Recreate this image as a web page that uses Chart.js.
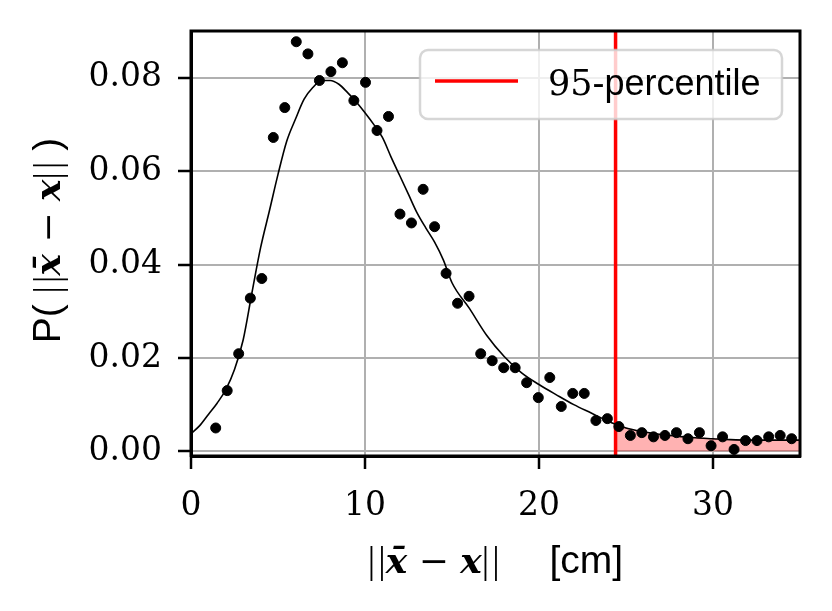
<!DOCTYPE html>
<html lang="en">
<head>
<meta charset="UTF-8">
<title>Distance distribution</title>
<script src="https://cdn.jsdelivr.net/npm/chart.js"></script>
<style>
  body { margin: 0; background: #fff; }
  canvas { display: block; }
</style>
</head>
<body>
<canvas id="distChart" width="832" height="611"></canvas>
<script>
// histogram bins (centre, density)
const binX = [1.42, 2.08, 2.74, 3.41, 4.07, 4.73, 5.39, 6.05, 6.72, 7.38,
              8.04, 8.70, 9.36, 10.03, 10.69, 11.35, 12.01, 12.67, 13.34, 14.00,
              14.66, 15.32, 15.98, 16.65, 17.31, 17.97, 18.63, 19.29, 19.96, 20.62,
              21.28, 21.94, 22.60, 23.27, 23.93, 24.59, 25.25, 25.91, 26.58, 27.24,
              27.90, 28.56, 29.22, 29.89, 30.55, 31.21, 31.87, 32.53, 33.20, 33.86, 34.52];
const binY = [0.0050, 0.0130, 0.0209, 0.0328, 0.0370, 0.0672, 0.0736, 0.0877, 0.0851, 0.0794,
              0.0813, 0.0832, 0.0751, 0.0790, 0.0687, 0.0717, 0.0508, 0.0489, 0.0561, 0.0481,
              0.0381, 0.0317, 0.0332, 0.0209, 0.0194, 0.0179, 0.0179, 0.0147, 0.0115, 0.0158,
              0.0096, 0.0124, 0.0124, 0.0066, 0.0070, 0.0053, 0.0034, 0.0040, 0.0031, 0.0034,
              0.0040, 0.0027, 0.0040, 0.0012, 0.0031, 0.0004, 0.0023, 0.0023, 0.0031, 0.0034, 0.0027];

// fitted density curve
const fitX = [0, 0.5, 1, 1.5, 2, 2.5, 3, 3.5, 4, 4.5, 5, 5.5, 6, 6.5, 7, 7.5, 8, 8.5, 9, 9.5,
              10, 10.5, 11, 11.5, 12, 12.5, 13, 13.5, 14, 14.5, 15, 16, 17, 18, 19, 20, 21, 22, 23, 24,
              24.4, 25, 26, 27, 28, 29, 30, 31, 32, 33, 34, 35];
const fitY = [0.0038, 0.0055, 0.0079, 0.0103, 0.0132, 0.0175, 0.0239, 0.0339, 0.0436, 0.0514,
              0.0593, 0.0664, 0.0711, 0.0754, 0.0779, 0.0794, 0.0794, 0.0786, 0.0768, 0.0748,
              0.0725, 0.0700, 0.0672, 0.0630, 0.0590, 0.0550, 0.0510, 0.0478, 0.0448, 0.0410,
              0.0361, 0.0306, 0.0248, 0.0203, 0.0168, 0.0143, 0.0121, 0.0100, 0.0082, 0.0064,
              0.0058, 0.0050, 0.0042, 0.0036, 0.0032, 0.0029, 0.0027, 0.0025, 0.0024, 0.0024, 0.0024, 0.0024];

const p95 = 24.4;
const legendLabel = ['95', '-percentile'];
const xTicks = [0, 10, 20, 30];
const yTicks = [0, 0.02, 0.04, 0.06, 0.08];
const xRange = [0, 35];
const yRange = [-0.001, 0.09];

const SERIF = '"DejaVu Serif", serif';
const SANS = '"Liberation Sans", sans-serif';

const fitPts = fitX.map((x, i) => ({ x: x, y: fitY[i] }));
const tailPts = fitPts.filter(p => p.x >= p95);
const binPts = binX.map((x, i) => ({ x: x, y: binY[i] }));

// text made of pieces in different fonts
function drawRuns(ctx, runs, cx, baseY) {
    let total = 0;
    runs.forEach(r => { ctx.font = r[1]; total += ctx.measureText(r[0]).width; });
    let x = cx - total / 2;
    ctx.textAlign = 'left';
    ctx.textBaseline = 'alphabetic';
    runs.forEach(r => {
        ctx.font = r[1];
        ctx.fillText(r[0], x, baseY);
        x += ctx.measureText(r[0]).width;
    });
}

const bars = `37px "Liberation Serif", serif`;
const mathN = `36px ${SERIF}`;
const mathB = `italic bold 36px ${SERIF}`;
const sansN = `39px ${SANS}`;
const dbl = [['|', bars], ['\u200a', bars], ['|', bars]];
const normRuns = dbl.concat([['x\u0304', mathB], [' \u2212 ', mathN], ['x', mathB]], dbl);

const decor = {
    id: 'decor',
    afterDraw(chart) {
        const ctx = chart.ctx;
        const a = chart.chartArea;
        ctx.save();
        ctx.fillStyle = '#000';

        // frame
        ctx.strokeStyle = '#000';
        ctx.lineWidth = 3;
        ctx.strokeRect(a.left, a.top, a.right - a.left, a.bottom - a.top);

        // axis titles
        drawRuns(ctx, normRuns.concat([['\u2003 [cm]', sansN]]), (a.left + a.right) / 2, 573);
        ctx.save();
        ctx.translate(60, (a.top + a.bottom) / 2 - 3);
        ctx.rotate(-Math.PI / 2);
        drawRuns(ctx, [['P( ', sansN]].concat(normRuns, [[' )', sansN]]), 0, 0);
        ctx.restore();

        // legend
        const bx = 420, by = 50, bw = 362, bh = 69;
        ctx.beginPath();
        ctx.roundRect(bx, by, bw, bh, 8);
        ctx.fillStyle = 'rgba(255,255,255,0.8)';
        ctx.fill();
        ctx.strokeStyle = 'rgba(204,204,204,0.8)';
        ctx.lineWidth = 2.5;
        ctx.stroke();
        ctx.beginPath();
        ctx.moveTo(435, 81);
        ctx.lineTo(518, 81);
        ctx.strokeStyle = '#ff0000';
        ctx.lineWidth = 3.5;
        ctx.stroke();
        ctx.fillStyle = '#000';
        ctx.textAlign = 'left';
        ctx.textBaseline = 'alphabetic';
        ctx.font = `35px ${SERIF}`;
        ctx.fillText(legendLabel[0], 548, 95);
        const w = ctx.measureText(legendLabel[0]).width;
        ctx.font = `36px ${SANS}`;
        ctx.fillText(legendLabel[1], 548 + w, 95);
        ctx.restore();
    }
};

new Chart(document.getElementById('distChart'), {
    type: 'scatter',
    data: {
        datasets: [
            {
                label: 'bins',
                data: binPts,
                backgroundColor: '#000',
                borderColor: '#000',
                pointRadius: 5,
                pointHoverRadius: 5,
                order: 0
            },
            {
                label: 'fit',
                data: fitPts,
                showLine: true,
                borderColor: '#000',
                borderWidth: 1.6,
                pointRadius: 0,
                cubicInterpolationMode: 'monotone',
                order: 1
            },
            {
                label: '95-percentile',
                data: [{ x: p95, y: yRange[0] }, { x: p95, y: yRange[1] }],
                showLine: true,
                borderColor: '#ff0000',
                borderWidth: 3.5,
                pointRadius: 0,
                order: 2
            },
            {
                label: 'tail',
                data: tailPts,
                showLine: true,
                fill: 'origin',
                backgroundColor: 'rgba(255,0,0,0.3)',
                borderColor: 'rgba(255,0,0,0.35)',
                borderWidth: 1,
                pointRadius: 0,
                cubicInterpolationMode: 'monotone',
                order: 3
            }
        ]
    },
    options: {
        responsive: false,
        animation: false,
        devicePixelRatio: 1,
        layout: { padding: { top: 31, right: 32, left: 0, bottom: 0 } },
        plugins: {
            legend: { display: false },
            tooltip: { enabled: false }
        },
        scales: {
            x: {
                type: 'linear',
                min: xRange[0],
                max: xRange[1],
                afterBuildTicks: s => { s.ticks = xTicks.map(v => ({ value: v })); },
                afterFit: s => { s.height = 155; s.paddingLeft = 0; s.paddingRight = 0; },
                grid: { color: '#b0b0b0', lineWidth: 2, tickColor: '#000', tickWidth: 2.5, tickLength: 13 },
                border: { color: '#000', width: 3 },
                ticks: {
                    color: '#000',
                    padding: 18,
                    maxRotation: 0,
                    font: { family: SERIF, size: 33 },
                    callback: v => String(v)
                }
            },
            y: {
                min: yRange[0],
                max: yRange[1],
                afterBuildTicks: s => { s.ticks = yTicks.map(v => ({ value: v })); },
                // labels sit well inside the axis, so no extra room above/below
                afterFit: s => { s.width = 191; s.paddingTop = 0; s.paddingBottom = 0; },
                grid: { color: '#b0b0b0', lineWidth: 2, tickColor: '#000', tickWidth: 2.5, tickLength: 13 },
                border: { color: '#000', width: 3 },
                ticks: {
                    color: '#000',
                    padding: 16,
                    font: { family: SERIF, size: 33 },
                    callback: v => v.toFixed(2)
                }
            }
        }
    },
    plugins: [decor]
});
</script>
</body>
</html>
